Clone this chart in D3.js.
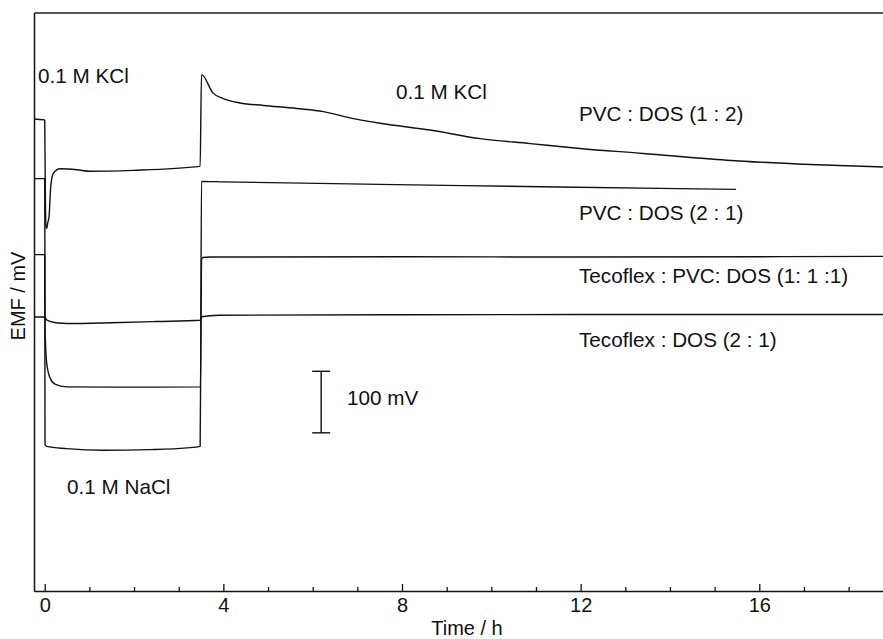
<!DOCTYPE html>
<html>
<head>
<meta charset="utf-8">
<script src="https://cdn.jsdelivr.net/npm/d3@7"></script>
<style>
  html, body { margin: 0; padding: 0; background: #fff; }
  svg { display: block; }
  text { font-family: "Liberation Sans", Arial, Helvetica, sans-serif; fill: #111; }
</style>
</head>
<body>
<svg id="chart" width="883" height="639"></svg>
<script>
// EMF response of four membrane compositions: 0.1 M KCl -> 0.1 M NaCl -> 0.1 M KCl
const seriesNames = [
  "PVC : DOS (1 : 2)",
  "PVC : DOS (2 : 1)",
  "Tecoflex : PVC: DOS (1: 1 :1)",
  "Tecoflex : DOS (2 : 1)"
];

// time in hours, EMF in mV (traces are offset from each other for clarity)
const timeA = [-0.24, -0.01, 0.0, 0.015, 0.03, 0.045, 0.07, 0.096, 0.134, 0.19, 0.34, 0.72, 1.01, 1.98, 3.48,
               3.51, 3.77, 4.0, 4.37, 4.9, 5.64, 6.24, 6.76, 7.51, 8.63, 9.75, 10.87, 11.98, 13.4, 15.27, 17.14, 18.77];
const emfA  = [767, 765.5, 764.5, 635, 591.5, 589, 599, 607.5, 656, 678, 686, 684.5, 682, 683.5, 690,
               839, 809, 800, 793, 789, 784, 779, 770, 760, 749, 735, 727, 719, 711, 700, 693, 689];

const timeB = [-0.24, 0.0, 0.008, 0.02, 0.045, 0.12, 0.23, 0.49, 1.5, 2.5, 3.49, 3.51, 4.0, 7.5, 11.5, 15.48];
const emfB  = [670, 670, 424, 399, 370, 346, 336, 331.7, 331.2, 331.2, 331.7, 665.6, 664.8, 660.8, 656.4, 652.6];

const timeC = [-0.24, 0.0, 0.007, 0.045, 0.49, 1.31, 2.36, 3.18, 3.48, 3.51, 3.54, 3.7, 8, 12, 18.77];
const emfC  = [546.6, 546.6, 237.8, 235.1, 231.4, 228.6, 229.7, 232.5, 235.1, 539, 542, 542.7, 543, 542.7, 543.8];

const timeD = [-0.24, 0.0, 0.05, 0.25, 0.5, 1.5, 2.5, 3.48, 3.51, 3.9, 8, 12, 18.77];
const emfD  = [445.3, 445.3, 440, 435.9, 434.6, 435.9, 437.9, 440, 445.6, 448.1, 448.9, 449.2, 449.2];

const majorTicks = [0, 4, 8, 12, 16];
const minorTicks = [1, 2, 3, 5, 6, 7, 9, 10, 11, 13, 14, 15, 17, 18];

// 100 mV scale bar
const scaleBarBase = 257;
const scaleBarSpan = 100;
const scaleBarTime = 6.19;

const svg = d3.select("#chart");
const plotLeft = 34, plotRight = 883, plotTop = 12.5, plotBottom = 591;

const x = d3.scaleLinear().domain([-0.24, 18.77]).range([plotLeft, plotRight]);
const y = d3.scaleLinear().domain([0, 940]).range([plotBottom, plotTop]);

// frame: left axis, top rule, bottom time axis
svg.append("g")
  .attr("transform", `translate(${plotLeft},0)`)
  .call(d3.axisLeft(y).tickValues([]).tickSizeOuter(0))
  .call(g => g.select(".domain").attr("stroke", "#111").attr("stroke-width", 1.5));

svg.append("g")
  .attr("transform", `translate(0,${plotTop})`)
  .call(d3.axisTop(x).tickValues([]).tickSizeOuter(0))
  .call(g => g.select(".domain").attr("stroke", "#222").attr("stroke-width", 1.5));

svg.append("g")
  .attr("transform", `translate(0,${plotBottom})`)
  .call(d3.axisBottom(x).tickValues(minorTicks).tickFormat("").tickSize(-4).tickSizeOuter(0))
  .call(g => g.select(".domain").remove())
  .call(g => g.selectAll("line").attr("stroke", "#111").attr("stroke-width", 1.3));

svg.append("g")
  .attr("transform", `translate(0,${plotBottom})`)
  .call(d3.axisBottom(x).tickValues(majorTicks).tickFormat(d3.format("d")).tickSize(-7).tickSizeOuter(0).tickPadding(7))
  .call(g => g.select(".domain").attr("stroke", "#111").attr("stroke-width", 1.5))
  .call(g => g.selectAll("line").attr("stroke", "#111").attr("stroke-width", 1.3))
  .call(g => g.selectAll("text")
    .attr("font-size", 20)
    .attr("font-family", "'Liberation Sans', Arial, Helvetica, sans-serif")
    .attr("fill", "#111"));

// traces
const line = d3.line()
  .x(d => x(d[0]))
  .y(d => y(d[1]))
  .curve(d3.curveMonotoneX);

const traces = [
  d3.zip(timeA, emfA),
  d3.zip(timeB, emfB),
  d3.zip(timeC, emfC),
  d3.zip(timeD, emfD)
];

svg.append("g")
  .selectAll("path")
  .data(traces)
  .join("path")
  .attr("d", line)
  .attr("fill", "none")
  .attr("stroke", "#111")
  .attr("stroke-width", 1.4)
  .attr("stroke-linejoin", "round");

// scale bar
const sb = svg.append("g").attr("stroke", "#111").attr("stroke-width", 1.4);
const sbx = x(scaleBarTime);
sb.append("line").attr("x1", sbx).attr("x2", sbx)
  .attr("y1", y(scaleBarBase)).attr("y2", y(scaleBarBase + scaleBarSpan));
[scaleBarBase, scaleBarBase + scaleBarSpan].forEach(v => {
  sb.append("line").attr("x1", sbx - 9).attr("x2", sbx + 9).attr("y1", y(v)).attr("y2", y(v));
});

// text annotations
const labels = [
  { t: "0.1 M KCl", x: 38, y: 83 },
  { t: "0.1 M KCl", x: 396, y: 98.5 },
  { t: "0.1 M NaCl", x: 67, y: 494 },
  { t: scaleBarSpan + " mV", x: 347, y: 405 },
  { t: seriesNames[0], x: 579, y: 120.5 },
  { t: seriesNames[1], x: 579, y: 219.5 },
  { t: seriesNames[2], x: 579, y: 282.5 },
  { t: seriesNames[3], x: 579, y: 347 }
];
svg.append("g")
  .selectAll("text")
  .data(labels)
  .join("text")
  .attr("x", d => d.x)
  .attr("y", d => d.y)
  .attr("font-size", 20.7)
  .text(d => d.t);

// axis titles
svg.append("text")
  .attr("x", 467).attr("y", 634.5)
  .attr("text-anchor", "middle")
  .attr("font-size", 20)
  .text("Time / h");

svg.append("text")
  .attr("transform", "translate(25,296) rotate(-90)")
  .attr("text-anchor", "middle")
  .attr("font-size", 20)
  .text("EMF / mV");
</script>
</body>
</html>
